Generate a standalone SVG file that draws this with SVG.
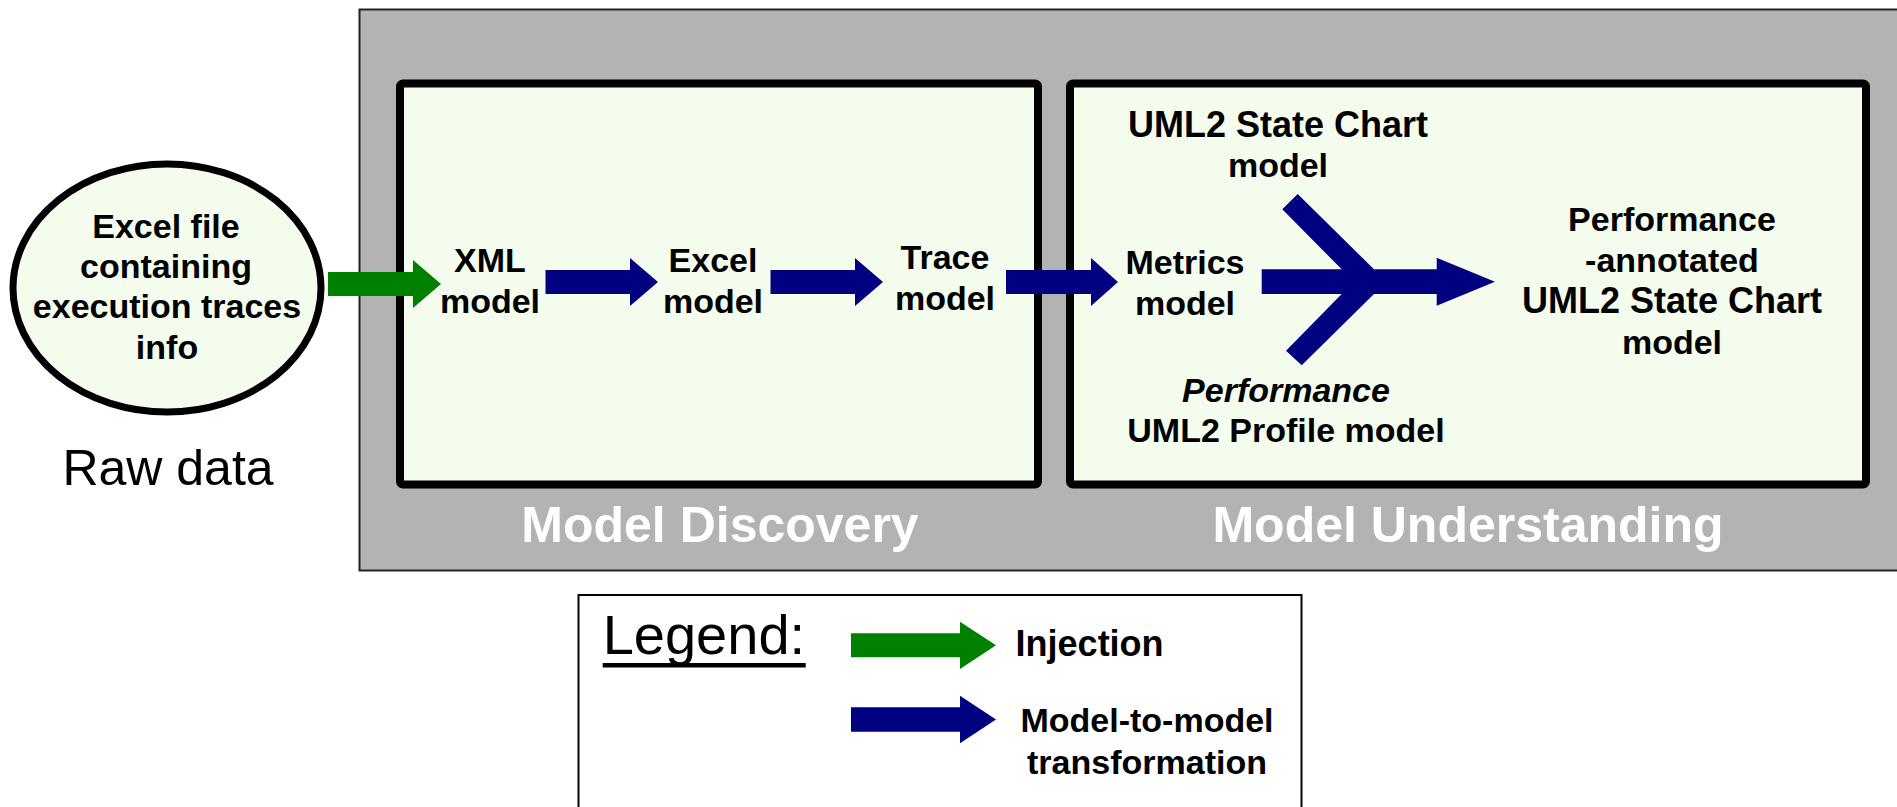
<svg xmlns="http://www.w3.org/2000/svg" width="1897" height="807" viewBox="0 0 1897 807">
<style>
.lbl{font-family:"Liberation Sans",Arial,sans-serif;font-weight:bold;font-size:34px;fill:#000;text-anchor:middle}
.lbs{font-family:"Liberation Sans",Arial,sans-serif;font-weight:bold;font-size:36px;fill:#000;text-anchor:start}
.ttl{font-family:"Liberation Sans",Arial,sans-serif;font-weight:bold;font-size:50px;fill:#fff;text-anchor:middle}
.reg{font-family:"Liberation Sans",Arial,sans-serif;font-size:50px;fill:#000}
.panel{fill:#F4FCEE;stroke:#000;stroke-width:8}
.inj{fill:#008000}
.m2m{fill:#000080}
</style>
<rect width="1897" height="807" fill="#fff"/>
<g id="container">
<rect x="359.5" y="9.5" width="1560" height="561" fill="#B3B3B3" stroke="#222" stroke-width="2"/>
<text class="ttl" x="720" y="542">Model Discovery</text>
<text class="ttl" x="1468" y="542">Model Understanding</text>
</g>
<g id="model-discovery">
<rect class="panel" x="400" y="83.5" width="638" height="401" rx="3"/>
</g>
<g id="model-understanding">
<rect class="panel" x="1070" y="83.5" width="796" height="401" rx="3"/>
</g>
<g id="raw-data">
<ellipse cx="167" cy="288" rx="154" ry="124" fill="#F4FCEE" stroke="#000" stroke-width="7"/>
<text class="lbl" x="166" y="238">Excel file</text>
<text class="lbl" x="166" y="278">containing</text>
<text class="lbl" x="167" y="318">execution traces</text>
<text class="lbl" x="167" y="359">info</text>
<text class="reg" x="168" y="485" text-anchor="middle">Raw data</text>
</g>
<g id="connectors">
<path class="inj" d="M328,272H413V260L441,284L413,308V296H328Z"/>
<path class="m2m" d="M545.5,270H630V258L658,282L630,306V294H545.5Z"/>
<path class="m2m" d="M770.5,270H855V258L883,282L855,306V294H770.5Z"/>
<path class="m2m" d="M1006,270H1091V258L1118,282L1091,306V294H1006Z"/>
<path class="m2m" d="M1261.7,269.3H1341.7L1282.3,209.3L1297.7,194L1374,269.3H1436.7V257.7L1495,281.7L1436.7,305.7V294H1374L1301.7,365.3L1286,350.7L1341.7,294H1261.7Z"/>
</g>
<g id="xml-model">
<text class="lbl" x="490" y="272">XML</text>
<text class="lbl" x="490" y="312.6">model</text>
</g>
<g id="excel-model">
<text class="lbl" x="713" y="272">Excel</text>
<text class="lbl" x="713" y="312.6">model</text>
</g>
<g id="trace-model">
<text class="lbl" x="945" y="269">Trace</text>
<text class="lbl" x="945" y="310">model</text>
</g>
<g id="metrics-model">
<text class="lbl" x="1185" y="274">Metrics</text>
<text class="lbl" x="1185" y="314.5">model</text>
</g>
<g id="statechart-model">
<text class="lbl" x="1278" y="137" style="font-size:36px">UML2 State Chart</text>
<text class="lbl" x="1278" y="177">model</text>
</g>
<g id="profile-model">
<text class="lbl" x="1286" y="401.5" font-style="italic">Performance</text>
<text class="lbl" x="1286" y="442">UML2 Profile model</text>
</g>
<g id="annotated-model">
<text class="lbl" x="1672" y="231">Performance</text>
<text class="lbl" x="1672" y="272">-annotated</text>
<text class="lbl" x="1672" y="312.6" style="font-size:36px">UML2 State Chart</text>
<text class="lbl" x="1672" y="353.7">model</text>
</g>
<g id="legend">
<rect x="578.5" y="595" width="723" height="230" fill="#fff" stroke="#000" stroke-width="2"/>
<text class="reg" x="602.7" y="654" style="font-size:56px">Legend:</text>
<rect x="602.7" y="663" width="203" height="4.5" fill="#000"/>
<path class="inj" d="M851,633.3H960V621.7L996,645.3L960,669V657.3H851Z"/>
<path class="m2m" d="M851,707.3H960V695.7L996,719.5L960,743.3V731.7H851Z"/>
<text class="lbs" x="1015.6" y="656">Injection</text>
<text class="lbl" x="1147" y="732">Model-to-model</text>
<text class="lbl" x="1147" y="774">transformation</text>
</g>
</svg>
